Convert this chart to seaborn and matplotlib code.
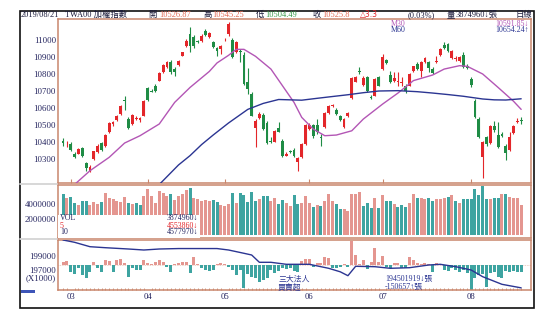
import numpy as np
import pandas as pd
import matplotlib
matplotlib.use("Agg")
import matplotlib.pyplot as plt
from matplotlib.patches import Rectangle
from matplotlib.lines import Line2D
import seaborn as sns

sns.set_theme(style="white")
plt.rcParams["font.family"] = ["Liberation Serif", "Noto Sans CJK TC", "DejaVu Sans"]

# ---- daily OHLC of the TAIEX (TWA00), late Feb .. 2019/08/21 ----
opens = [10406, 10399, 10388, 10329, 10331, 10365, 10276, 10227, 10298, 10339,
         10392, 10376, 10457, 10504, 10531, 10565, 10647, 10535, 10506, 10535,
         10531, 10555, 10716, 10702, 10731, 10761, 10810, 10839, 10872, 10829,
         10853, 10908, 10963, 11035, 11016, 10994, 10996, 11055, 11016, 10986,
         10951, 10947, 10998, 11035, 11002, 10927, 10937, 10912, 10755, 10682,
         10480, 10539, 10559, 10512, 10406, 10402, 10484, 10408, 10319, 10347,
         10353, 10284, 10310, 10388, 10476, 10500, 10500, 10429, 10486, 10570,
         10610, 10588, 10551, 10486, 10551, 10657, 10755, 10820, 10735, 10780,
         10667, 10672, 10780, 10829, 10882, 10794, 10761, 10755, 10749, 10731,
         10731, 10820, 10859, 10820, 10869, 10869, 10829, 10872, 10912, 10971,
         10976, 10892, 10890, 10878, 10912, 10849, 10770, 10643, 10535, 10310,
         10427, 10394, 10496, 10441, 10447, 10378, 10355, 10453, 10516, 10526.87]
highs = [10421, 10408, 10402, 10339, 10365, 10372, 10280, 10265, 10349, 10388,
         10402, 10447, 10520, 10525, 10559, 10618, 10672, 10545, 10565, 10551,
         10545, 10649, 10722, 10712, 10741, 10814, 10859, 10878, 10884, 10839,
         10884, 10931, 11006, 11074, 11029, 11002, 11035, 11065, 11045, 10996,
         10957, 10971, 11010, 11104, 11010, 10996, 10947, 10927, 10833, 10692,
         10535, 10574, 10570, 10525, 10427, 10472, 10516, 10418, 10339, 10355,
         10363, 10310, 10394, 10506, 10512, 10506, 10535, 10447, 10574, 10618,
         10623, 10598, 10559, 10539, 10574, 10780, 10786, 10839, 10790, 10786,
         10676, 10778, 10790, 10918, 10888, 10820, 10810, 10810, 10780, 10741,
         10806, 10849, 10872, 10878, 10898, 10878, 10839, 10908, 10951, 10990,
         10982, 10943, 10908, 10904, 10927, 10859, 10780, 10653, 10545, 10408,
         10437, 10500, 10525, 10516, 10457, 10388, 10457, 10500, 10539, 10545.25]
lows = [10378, 10368, 10349, 10306, 10327, 10310, 10231, 10221, 10294, 10335,
        10349, 10372, 10453, 10492, 10525, 10559, 10590, 10476, 10500, 10529,
        10516, 10551, 10643, 10692, 10696, 10757, 10806, 10835, 10800, 10790,
        10849, 10904, 10957, 10927, 10951, 10982, 10990, 11025, 11010, 10951,
        10908, 10918, 10994, 11025, 10892, 10923, 10869, 10735, 10682, 10551,
        10368, 10535, 10472, 10388, 10394, 10398, 10457, 10310, 10316, 10335,
        10310, 10231, 10304, 10382, 10472, 10421, 10447, 10374, 10480, 10565,
        10604, 10559, 10525, 10480, 10545, 10653, 10751, 10800, 10731, 10696,
        10653, 10668, 10727, 10825, 10859, 10747, 10755, 10731, 10731, 10688,
        10727, 10814, 10825, 10780, 10865, 10810, 10800, 10865, 10908, 10947,
        10927, 10888, 10878, 10872, 10833, 10829, 10721, 10539, 10421, 10186,
        10378, 10388, 10457, 10363, 10427, 10296, 10349, 10447, 10512, 10504.49]
closes = [10394, 10402, 10355, 10314, 10359, 10316, 10245, 10255, 10345, 10378,
          10355, 10443, 10512, 10516, 10553, 10610, 10641, 10480, 10559, 10543,
          10539, 10643, 10647, 10696, 10702, 10806, 10853, 10869, 10814, 10814,
          10878, 10927, 10996, 10967, 10967, 10988, 11025, 11029, 11041, 10957,
          10937, 10967, 11002, 11094, 10898, 10990, 10927, 10741, 10712, 10555,
          10525, 10565, 10476, 10394, 10398, 10467, 10461, 10316, 10329, 10339,
          10316, 10304, 10388, 10500, 10500, 10433, 10461, 10425, 10569, 10610,
          10618, 10565, 10531, 10535, 10569, 10774, 10780, 10810, 10774, 10702,
          10657, 10770, 10731, 10898, 10865, 10751, 10774, 10759, 10753, 10702,
          10800, 10845, 10829, 10872, 10892, 10833, 10806, 10876, 10947, 10951,
          10937, 10937, 10894, 10898, 10839, 10837, 10735, 10545, 10427, 10398,
          10388, 10496, 10472, 10368, 10433, 10335, 10427, 10492, 10522.5, 10525.8]

# daily volume
volume = [5300000, 4740000, 4870000, 4090000, 3870000, 4430000, 4430000, 3870000, 4300000, 4000000,
          4300000, 5400000, 4740000, 4600000, 4430000, 4300000, 4870000, 4090000, 4000000, 4090000,
          3870000, 5050000, 5920000, 5000000, 4180000, 5740000, 5400000, 5050000, 5310000, 4500000,
          5050000, 5310000, 5830000, 6050000, 4740000, 4600000, 4430000, 4500000, 4430000, 4500000,
          4300000, 3870000, 3740000, 4000000, 5400000, 4180000, 5400000, 5180000, 4300000, 5600000,
          4430000, 4600000, 5050000, 5050000, 4430000, 4740000, 4000000, 4500000, 4090000, 3740000,
          5180000, 4000000, 4090000, 5050000, 4180000, 3660000, 3870000, 3800000, 4430000, 5310000,
          4430000, 4000000, 3300000, 3300000, 3130000, 5310000, 5310000, 5600000, 3740000, 4090000,
          3440000, 4740000, 3440000, 5180000, 4430000, 4430000, 4000000, 3660000, 3870000, 3660000,
          4180000, 5310000, 4740000, 4740000, 4600000, 4740000, 4430000, 4600000, 4600000, 4740000,
          4960000, 5180000, 4430000, 4090000, 4600000, 4600000, 4600000, 5920000, 5180000, 6350000,
          4600000, 4600000, 4740000, 4740000, 5310000, 5310000, 4870000, 4740000, 4740000, 3874960]

# three major institutional investors: daily net buy/sell
inst_net = [55000, 82000, -137000, -192000, -69000, -206000, -275000, -151000, 55000, -55000,
            -137000, 103000, 82000, -151000, 103000, 124000, 34000, -240000, -69000, -103000,
            -103000, 103000, 34000, 14000, 55000, 103000, 55000, -34000, -137000, 14000,
            34000, 55000, 55000, -172000, 172000, 14000, -69000, -103000, -124000, -103000,
            14000, 34000, 14000, -34000, -103000, -206000, -103000, -467000, -192000, -240000,
            -275000, -343000, -309000, -261000, -103000, -172000, -124000, -69000, -82000, -55000,
            -124000, -137000, 82000, 124000, 124000, -34000, 34000, 34000, 172000, 151000,
            -55000, -69000, -34000, 14000, -34000, 500000, 206000, 14000, 103000, -82000,
            69000, 357000, 69000, 192000, -34000, -69000, 34000, 34000, -55000, -69000,
            172000, 103000, 34000, 14000, 34000, 14000, -137000, 34000, 14000, -103000,
            -124000, -69000, -103000, -137000, -103000, -172000, -505000, -261000, -206000, -192000,
            -446000, -172000, -137000, -240000, -261000, -124000, -151000, -124000, -137000, -150657]

# running balance line (x1000)
inst_line_day = [0, 3, 7, 11, 17, 21, 25, 30, 36, 40, 43, 47, 49, 51, 54, 58,
                 64, 69, 72, 74, 76, 81, 85, 90, 95, 98, 102, 106, 109, 114, 117, 119]
inst_line_val = [201196, 200874, 200259, 200119, 199937, 199797, 199937, 200000,
                 200000, 200000, 199797, 199336, 199098, 198077, 198077, 197797,
                 197797, 197238, 196750, 196203, 197518, 197462, 197238, 197322,
                 197700, 197797, 197462, 197000, 196063, 195000, 194700, 194502]

# moving averages of the index
ma30_day = [3, 7, 12, 16, 20, 25, 29, 33, 38, 40, 43, 45, 47, 50, 54, 57, 60,
            62, 65, 68, 71, 75, 78, 83, 87, 91, 96, 99, 103, 105, 109, 113, 117, 119]
ma30_val = [10150, 10231, 10310, 10394, 10437, 10506, 10633, 10721, 10815, 10865,
            10910, 10945, 10945, 10904, 10829, 10731, 10633, 10545, 10476, 10437,
            10441, 10466, 10535, 10623, 10688, 10761, 10794, 10829, 10849, 10845,
            10800, 10721, 10640, 10591.85]
ma60_day = [25, 30, 33, 36, 39, 43, 48, 52, 56, 62, 66, 69, 74, 78, 82, 87, 92,
            96, 100, 104, 109, 112, 115, 119]
ma60_val = [10150, 10265, 10320, 10385, 10441, 10512, 10592, 10627, 10650, 10646,
            10657, 10665, 10678, 10690, 10700, 10702, 10696, 10688, 10679, 10669,
            10653, 10648, 10647, 10654.24]

month_start = [2, 22, 42, 64, 83, 106]
month_labels = ["03", "04", "05", "06", "07", "08"]
price_ticks = [10300, 10400, 10500, 10600, 10700, 10800, 10900, 11000]
vol_ticks = [2000000, 4000000]
inst_ticks = [197000, 199000]

# ---- styling ----
RED = "#e3262a"
GREEN = "#1f8c45"
SALMON = "#f28a82"
TEAL = "#2db5b1"
PURPLE = "#b356b5"
NAVY = "#2b3592"
BORDER = "#c9866c"
INK = "#23235e"
W, H = 556, 326

fig = plt.figure(figsize=(W / 100, H / 100), dpi=100)
fig.patch.set_facecolor("white")


def rect(x0, y0, x1, y1):
    return [x0 / W, 1 - y1 / H, (x1 - x0) / W, (y1 - y0) / H]


def ftext(x, y, s, **kw):
    kw.setdefault("va", "center")
    kw.setdefault("fontsize", 5.7)
    fig.text(x / W, 1 - y / H, s, **kw)


ax_main = fig.add_axes(rect(58, 19, 531, 183))
ax_vol = fig.add_axes(rect(58, 185, 531, 238))
ax_inst = fig.add_axes(rect(58, 240, 531, 290))

n = len(closes)
days = np.arange(n)
o = np.array(opens, float)
c = np.array(closes, float)
hi = np.array(highs, float)
lo = np.array(lows, float)
XL = (-1.3, 121.55)

# ---- candlesticks ----
rising = c >= o
candle_col = np.where(rising, RED, GREEN)
ax_main.vlines(days, lo, hi, colors=candle_col, lw=0.8, zorder=2)
body_h = np.maximum(np.abs(c - o), 4.0)
body_bottom = (o + c) / 2 - body_h / 2
ax_main.bar(days, body_h, bottom=body_bottom, width=0.74, color=candle_col,
            linewidth=0, zorder=3)
sns.lineplot(x=ma30_day, y=ma30_val, ax=ax_main, color=PURPLE, linewidth=1.0, zorder=4)
sns.lineplot(x=ma60_day, y=ma60_val, ax=ax_main, color=NAVY, linewidth=1.0, zorder=4)
ax_main.set_xlim(*XL)
ax_main.set_ylim(10158.9, 11123.5)
ax_main.set_yticks(price_ticks)
ax_main.set_yticklabels([str(v) for v in price_ticks])
ax_main.set_xticks(month_start)
ax_main.set_xticklabels([])
ax_main.tick_params(axis="y", length=0, pad=1.5, labelsize=6.3, labelcolor=INK)
ax_main.tick_params(axis="x", direction="in", length=3, width=0.8, color=BORDER,
                    bottom=True, top=False)
ax_main.set_xlabel("")
ax_main.set_ylabel("")

# ---- volume ----
prev_close = np.r_[o[0], c[:-1]]
vol_df = pd.DataFrame({"day": days, "vol": volume,
                       "dir": np.where(c >= prev_close, "up", "down")})
sns.barplot(data=vol_df, x="day", y="vol", hue="dir", native_scale=True,
            palette={"up": SALMON, "down": TEAL}, width=0.78, dodge=False,
            errorbar=None, legend=False, linewidth=0, ax=ax_vol)
ax_vol.set_xlim(*XL)
ax_vol.set_ylim(-444000, 6484000)
ax_vol.set_yticks(vol_ticks)
ax_vol.set_yticklabels([str(v) for v in vol_ticks])
ax_vol.set_xticks([])
ax_vol.tick_params(axis="y", length=0, pad=1.5, labelsize=6.3, labelcolor=INK)
ax_vol.set_xlabel("")
ax_vol.set_ylabel("")
ax_vol.add_patch(Rectangle((0, 0), (200 - 58) / 473, (238 - 215) / 53,
                           transform=ax_vol.transAxes, facecolor="white",
                           edgecolor="none", zorder=5))

# ---- institutional investors ----
inst_df = pd.DataFrame({"day": days, "net": inst_net,
                        "dir": np.where(np.array(inst_net) >= 0, "buy", "sell")})
sns.barplot(data=inst_df, x="day", y="net", hue="dir", native_scale=True,
            palette={"buy": SALMON, "sell": TEAL}, width=0.78, dodge=False,
            errorbar=None, legend=False, linewidth=0, ax=ax_inst)
ax_inst.axhline(0, color="#e8c0b2", lw=0.6, ls=(0, (1, 1)), zorder=0)
ax_inst.set_xlim(*XL)
ax_inst.set_ylim(-515000, 515000)
ax_inst.set_yticks([])
ax_inst.set_xticks(month_start)
ax_inst.set_xticklabels(month_labels)
ax_inst.set_xticks(days, minor=True)
ax_inst.tick_params(axis="x", which="major", direction="in", length=3, width=0.8,
                    color=BORDER, pad=2.5, labelsize=6.2, labelcolor=INK)
ax_inst.tick_params(axis="x", which="minor", direction="in", length=1.5, width=0.6,
                    color=BORDER, bottom=True)
ax_inst.set_xlabel("")
ax_inst.set_ylabel("")

ax_line = ax_inst.twinx()
sns.lineplot(x=inst_line_day, y=inst_line_val, ax=ax_line, color=NAVY, linewidth=1.0)
ax_line.set_xlim(*XL)
ax_line.set_ylim(194203, 201196)
ax_line.yaxis.tick_left()
ax_line.set_yticks(inst_ticks)
ax_line.set_yticklabels([str(v) for v in inst_ticks])
ax_line.tick_params(axis="y", length=0, pad=1.5, labelsize=6.3, labelcolor=INK)
ax_line.set_ylabel("")
for s in ax_line.spines.values():
    s.set_visible(False)

for ax in (ax_main, ax_vol, ax_inst):
    for s in ax.spines.values():
        s.set_visible(True)
        s.set_color(BORDER)
        s.set_linewidth(1.1)
    ax.set_facecolor("white")

# ---- outer frame and separators ----
fig.add_artist(Rectangle((20 / W, 1 - 308 / H), 514 / W, 297 / H, transform=fig.transFigure,
                         fill=False, edgecolor="#111111", linewidth=1.2))
for yy in (183.5, 238.5):
    fig.add_artist(Line2D([20 / W, 57 / W], [1 - yy / H] * 2, transform=fig.transFigure,
                          color="#d4d4d4", linewidth=1.3))
fig.add_artist(Rectangle((20.5 / W, 1 - 293 / H), 15 / W, 3.5 / H, transform=fig.transFigure,
                         facecolor="#3d55b8", edgecolor="none"))

# ---- header row ----
HDR = "#1b1b3a"
ftext(20.5, 15, "2019/08/21", color=HDR, fontsize=6)
ftext(65, 15, "TWA00 加權指數", color=HDR, fontsize=6)
ftext(148, 15, "開", color=HDR, fontsize=6)
ftext(159, 15, f"{opens[-1]:.2f}", color="#e36b55", fontsize=6)
ftext(203, 15, "高", color=HDR, fontsize=6)
ftext(212, 15, f"{highs[-1]:.2f}", color="#e36b55", fontsize=6)
ftext(256, 15, "低", color=HDR, fontsize=6)
ftext(265, 15, f"{lows[-1]:.2f}", color="#3a9a4a", fontsize=6)
ftext(313, 15, "收", color=HDR, fontsize=6)
ftext(322, 15, f"{closes[-1]:.1f}", color="#e36b55", fontsize=6)
ftext(360, 15, f"△{closes[-1] - closes[-2]:.1f}", color="#e3262a", fontsize=5.5,
      family=["DejaVu Sans"])
ftext(408, 15, "(0.03%)", color=HDR, fontsize=6)
ftext(447, 15, "量", color=HDR, fontsize=6)
ftext(456, 15, f"{volume[-1]}↓張", color=HDR, fontsize=6)
ftext(532, 15, "日線", color=HDR, ha="right", fontsize=6)

# moving-average readout
ftext(391, 24, "M30", color=PURPLE)
ftext(529, 24, f"{ma30_val[-1]:.2f}↓", color=PURPLE, ha="right")
ftext(391, 30.5, "M60", color=NAVY)
ftext(529, 30.5, f"{ma60_val[-1]:.2f}↑", color=NAVY, ha="right")

# volume readout
ftext(60, 218.5, "VOL", color=INK)
ftext(198, 218.5, f"{volume[-1]}↓", color=INK, ha="right")
ftext(60, 225.5, "5", color=RED)
ftext(198, 225.5, "4553860↓", color=RED, ha="right")
ftext(60, 232.5, "10", color=INK)
ftext(198, 232.5, "4577970↓", color=INK, ha="right")

# institutional readout
ftext(56, 278, "(X1000)", color=INK, ha="right", fontsize=6.3)
ftext(278, 279.5, "三大法人", color=NAVY)
ftext(278, 287.5, "買賣超", color=NAVY)
ftext(385, 279.5, f"{int(round(inst_line_val[-1] * 1000 - 81))}↓張", color=NAVY)
ftext(385, 287.5, f"{inst_net[-1]}↑張", color=NAVY)

fig.savefig("out.png", dpi=100, facecolor="white")
